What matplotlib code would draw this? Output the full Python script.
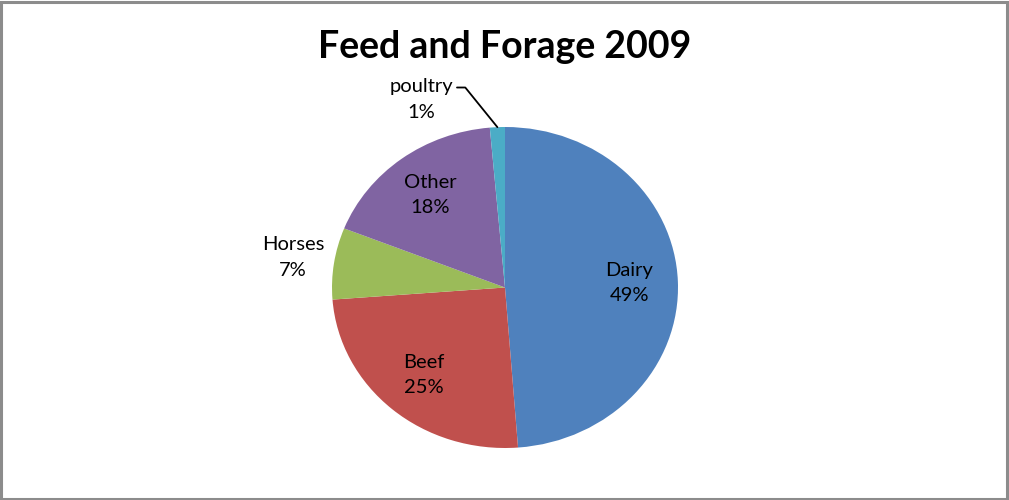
import numpy as np
import matplotlib
matplotlib.use("Agg")
import matplotlib.pyplot as plt
from matplotlib.patches import Rectangle

# data (clockwise from 12 o'clock)
categories = ["Dairy", "Beef", "Horses", "Other", "poultry"]
shares = [48.8, 25.0, 7.2, 17.6, 1.4]
colors = ["#4F81BD", "#C0504D", "#9BBB59", "#8064A2", "#4BACC6"]

plt.rcParams['font.family'] = ['Lato', 'DejaVu Sans']

fig = plt.figure(figsize=(10.09, 5.0), dpi=100)
# outer chart frame
fig.patches.append(Rectangle((0.001, 0.002), 0.997, 0.994, transform=fig.transFigure,
                             fill=False, edgecolor="#8c8c8c", linewidth=2.2))

# axes sized so the pie is slightly wider than tall, as in the original
ax = fig.add_axes([332 / 1009, 52 / 500, 346 / 1009, 321 / 500])
wedges, _ = ax.pie(shares, colors=colors, startangle=90, counterclock=False,
                   radius=1.0, wedgeprops=dict(linewidth=0))
ax.set_aspect('auto')
ax.set_xlim(-1, 1)
ax.set_ylim(-1, 1)
ax.axis('off')

fig.text(0.5, 0.907, "Feed and Forage 2009", ha="center", va="center",
         fontsize=27, fontweight="bold", color="black")

label_fs = 14.5
ls = 1.6
for w, name, val in zip(wedges, categories, shares):
    mid = np.deg2rad((w.theta1 + w.theta2) / 2)
    txt = f"{name}\n{round(val):.0f}%"
    if name == "Horses":
        r = 1.24
        ax.text(r * np.cos(mid), r * np.sin(mid), txt, ha="center", va="center",
                fontsize=label_fs, linespacing=ls)
    elif name == "poultry":
        xy = (np.cos(mid), np.sin(mid))
        ax.annotate(txt, xy=xy, xytext=(-55, 20), textcoords="offset points",
                    ha="center", va="center", fontsize=label_fs, linespacing=ls,
                    arrowprops=dict(arrowstyle="-", color="black", lw=1.3,
                                    shrinkA=1, shrinkB=0, relpos=(1.0, 0.78),
                                    connectionstyle="angle,angleA=0,angleB=129"))
    else:
        r = 0.72
        ax.text(r * np.cos(mid), r * np.sin(mid), txt, ha="center", va="center",
                fontsize=label_fs, linespacing=ls)

fig.savefig("out.png", dpi=100)
